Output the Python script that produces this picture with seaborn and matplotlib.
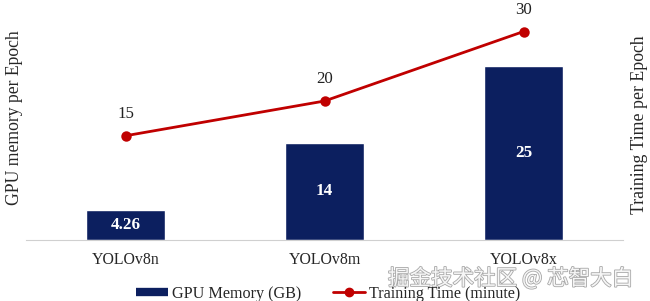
import matplotlib
matplotlib.use("Agg")
import matplotlib.pyplot as plt
import matplotlib.patheffects as pe
import seaborn as sns
import pandas as pd
from matplotlib.lines import Line2D

models = ["YOLOv8n", "YOLOv8m", "YOLOv8x"]
gpu_memory = [4.26, 14, 25]
train_time = [15, 20, 30]
gpu_labels = ["4.26", "14", "25"]
time_labels = ["15", "20", "30"]

NAVY = "#0c1f5f"
RED = "#c00000"

sns.set_theme(style="white")
plt.rcParams["font.family"] = ["Liberation Serif", "DejaVu Serif"]

fig = plt.figure(figsize=(6.5, 3.01), dpi=100)
ax = fig.add_axes([26 / 650, 61 / 301, 597 / 650, 230 / 301])

df = pd.DataFrame({"model": models, "gpu": gpu_memory, "time": train_time})
sns.barplot(data=df, x="model", y="gpu", color=NAVY, width=0.4, ax=ax,
            saturation=1)
ymax = 33.1
ax.set_ylim(0, ymax)
ax.set_yticks([])
ax.set_xlabel("")
ax.set_ylabel("GPU memory per Epoch", fontsize=12.7)
ax.yaxis.set_label_coords(-0.005, 0.53)
for s in ["top", "left", "right"]:
    ax.spines[s].set_visible(False)
ax.spines["bottom"].set_color("#d0d0d0")
ax.spines["bottom"].set_linewidth(0.8)
ax.tick_params(axis="x", length=0, labelsize=11.4, pad=9)

for i, (v, lab) in enumerate(zip(gpu_memory, gpu_labels)):
    ax.text(i, v / 2, lab, ha="center", va="center", color="white",
            fontsize=12.3, fontweight="bold")

ax2 = ax.twinx()
sns.pointplot(data=df, x="model", y="time", color=RED, ax=ax2,
              markers="o", markersize=6, linewidth=2)
ax2.set_ylim(0, ymax)
ax2.set_yticks([])
ax2.set_xlabel("")
ax2.set_ylabel("Training Time per Epoch", fontsize=12.8, labelpad=8)
ax2.yaxis.set_label_coords(1.0135, 0.50)
for s in ["top", "left", "right", "bottom"]:
    ax2.spines[s].set_visible(False)
for i, (v, lab) in enumerate(zip(train_time, time_labels)):
    ax2.text(i, v + 2.0, lab, ha="center", va="bottom", color="#222222",
             fontsize=12.2)

handles = [
    Line2D([0], [0], color=NAVY, lw=6, solid_capstyle="butt"),
    Line2D([0], [0], color=RED, lw=2, marker="o", markersize=6),
]
fig.legend(handles, ["GPU Memory (GB)", "Training Time (minute)"],
           loc="center", bbox_to_anchor=(328 / 650, 1 - 294 / 301), ncol=2,
           frameon=False, fontsize=11.6, handlelength=2.0, columnspacing=2.0,
           handletextpad=0.2)

fig.text(388 / 650, 1 - 279 / 301, "掘金技术社区 @ 芯智大白",
         family=["Noto Sans CJK SC", "DejaVu Sans"], fontsize=15.5,
         color="#f6f6f6", ha="left", va="center",
         path_effects=[pe.withStroke(linewidth=1.2, foreground="#a8a8a8")])

fig.savefig("out.png", dpi=100)
